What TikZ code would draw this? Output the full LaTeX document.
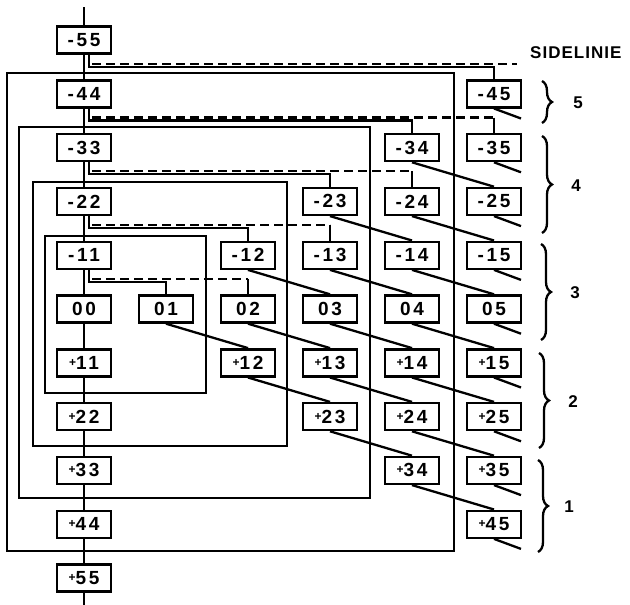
\documentclass[tikz,border=0pt]{standalone}
\usepackage{fontspec}
\setmainfont{Liberation Sans}
\newfontfamily\boxfont[LetterSpace=14]{Liberation Sans}
\newfontfamily\numfont[LetterSpace=6]{Liberation Sans}
\usetikzlibrary{calc,decorations.pathreplacing}

% small raised plus as printed in the cells
\newcommand{\splus}{\raisebox{3pt}{\fontsize{12}{12}\selectfont+}}

\tikzset{
  cell/.style={draw,line width=2.4pt,fill=white,minimum width=54pt,minimum height=27pt,
    inner sep=0pt,font=\boxfont\bfseries\fontsize{19}{19}\selectfont},
  frame/.style={line width=2.7pt},
  link/.style={line width=2.3pt},
  sideline/.style={line width=2.3pt,dash pattern=on 9pt off 5pt},
  brace/.style={line width=2.3pt,decorate,decoration={brace,amplitude=10pt}},
  num/.style={font=\numfont\bfseries\fontsize{17}{17}\selectfont},
}

\begin{document}
\begin{tikzpicture}[x=1pt,y=-1pt]
    \useasboundingbox (0,0) rectangle (630,605);
    % nested frames
    \draw[frame] (7,73) rectangle (454,551);
    \draw[frame] (19,127) rectangle (370,498);
    \draw[frame] (33,182) rectangle (287,446);
    \draw[frame] (45,236) rectangle (206,393);
    % centre column
    \foreach \row/\lbl in {0/-55,1/-44,2/-33,3/-22,4/-11,5/00,6/\splus11,7/\splus22,8/\splus33,9/\splus44,10/\splus55}
      \node[cell] (b0-\row) at (84,40+53.8*\row) {\lbl};
    % side columns
    \foreach \col in {1,...,5} {
      \pgfmathtruncatemacro\lo{6-\col}
      \pgfmathtruncatemacro\hi{4+\col}
      \foreach \row in {\lo,...,\hi} {
        \pgfmathtruncatemacro\dg{abs(\row-5)}
        \ifnum\row<5 \def\lbl{-\dg\col}\fi
        \ifnum\row=5 \def\lbl{0\col}\fi
        \ifnum\row>5 \def\lbl{\splus\dg\col}\fi
        \node[cell] (b\col-\row) at (84+82*\col,40+53.8*\row) {\lbl};
      }
    }
    % main line
    \coordinate (top) at (84,7);
    \coordinate (bot) at (84,605);
    \draw[link] (top) -- (b0-0);
    \foreach \row in {0,...,9} {
      \pgfmathtruncatemacro\nr{\row+1}
      \draw[link] (b0-\row) -- (b0-\nr);
    }
    \draw[link] (b0-10) -- (bot);
    % branches off the centre column
    \foreach \row in {0,...,4} {
      \pgfmathtruncatemacro\col{5-\row}
      \pgfmathtruncatemacro\nr{\row+1}
      \coordinate (h\row) at ($(b0-\row.south)+(5,12)$);
      \coordinate (d\row) at ($(h\row)+(3,-3)$);
      \draw[link] (b0-\row.south -| h\row) -- (h\row) -| (b\col-\nr.north);
    }
    \foreach \row in {1,...,4} {
      \pgfmathtruncatemacro\col{6-\row}
      \pgfmathtruncatemacro\nr{\row+1}
      \draw[sideline] (d\row) -- (d\row -| b\col-\nr.north);
      \draw[link] (d\row -| b\col-\nr.north) -- (b\col-\nr.north);
    }
    % the side line itself
    \coordinate (sl) at ($(d0)+(425,0)$);
    \draw[sideline] (d0) -- (sl);
    \node[num,anchor=west,inner sep=0pt] (side) at (530,53) {SIDELINIE};
    % diagonals
    \foreach \col in {1,...,4} {
      \pgfmathtruncatemacro\lo{6-\col}
      \pgfmathtruncatemacro\hi{4+\col}
      \pgfmathtruncatemacro\nc{\col+1}
      \foreach \row in {\lo,...,\hi} {
        \pgfmathtruncatemacro\nr{\row+1}
        \draw[link] (b\col-\row.south) -- (b\nc-\nr.north);
      }
    }
    \foreach \row in {1,...,9} {
      \path (b5-\row.south) ++(27,10) coordinate (s\row);
      \draw[link] (b5-\row.south) -- (s\row);
    }
    % groups
    \draw[brace] (542,81) -- (542,123);
    \draw[brace] (542,136) -- (542,233);
    \draw[brace] (541,244) -- (541,340);
    \draw[brace] (539,353) -- (539,448);
    \draw[brace] (538,460) -- (538,552);
    \node[num] (g5) at (578,103) {5};
    \node[num] (g4) at (576,186) {4};
    \node[num] (g3) at (575,293) {3};
    \node[num] (g2) at (573,402) {2};
    \node[num] (g1) at (569,507) {1};
\end{tikzpicture}
\end{document}
